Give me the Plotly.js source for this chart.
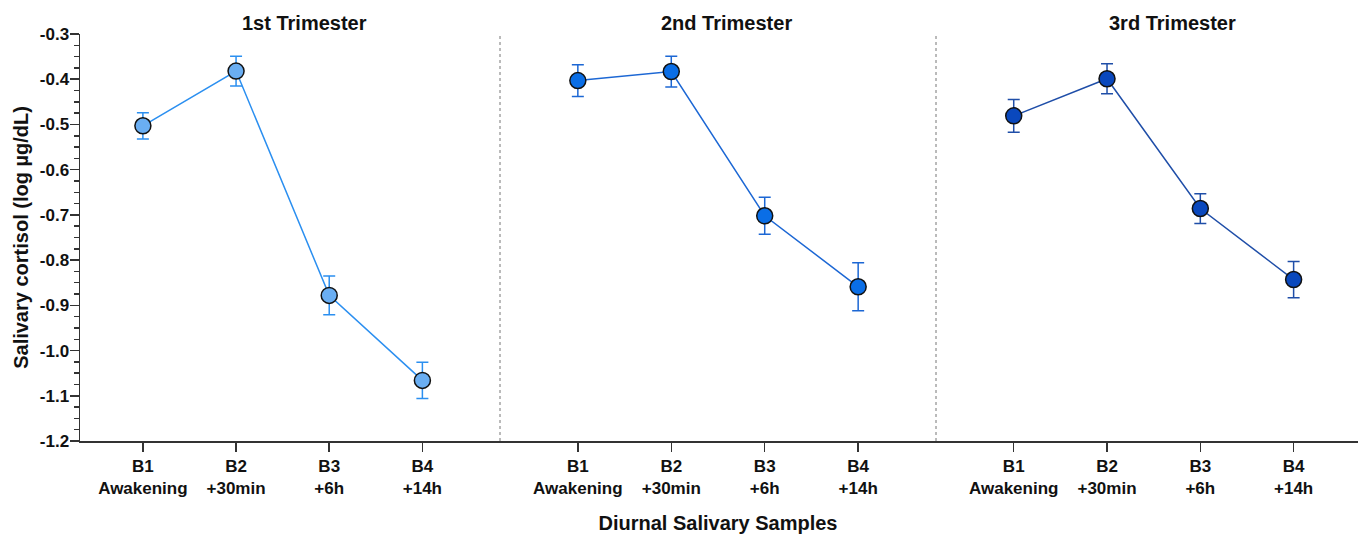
<!DOCTYPE html>
<html>
<head>
<meta charset="utf-8">
<script src="https://cdn.plot.ly/plotly-3.0.1.min.js"></script>
<style>html,body{margin:0;padding:0;background:#fff;}#chart{width:1358px;height:536px;}</style>
</head>
<body>
<div id="chart"></div>
<script>
// ---- data ----
const categories = ["B1<br>Awakening", "B2<br>+30min", "B3<br>+6h", "B4<br>+14h"];
const panelTitles = ["1st Trimester", "2nd Trimester", "3rd Trimester"];
const t1Mean = [-0.503, -0.382, -0.878, -1.066];
const t1Err  = [0.029, 0.033, 0.043, 0.040];
const t2Mean = [-0.403, -0.383, -0.702, -0.859];
const t2Err  = [0.035, 0.034, 0.041, 0.053];
const t3Mean = [-0.481, -0.399, -0.686, -0.843];
const t3Err  = [0.036, 0.033, 0.033, 0.040];
const yTickVals = [-1.2, -1.1, -1.0, -0.9, -0.8, -0.7, -0.6, -0.5, -0.4, -0.3];
const yTickText = ["-1.2", "-1.1", "-1.0", "-0.9", "-0.8", "-0.7", "-0.6", "-0.5", "-0.4", "-0.3"];
const yTitle = "Salivary cortisol (log µg/dL)";
const xTitle = "Diurnal Salivary Samples";

// ---- style ----
const FONT = "Liberation Sans, Arial, Helvetica, sans-serif";
const AX = "#333333";
const fills = ["#6aaef2", "#0a6ee6", "#0a48bd"];
const lines = ["#2b8ff0", "#1c67d4", "#1f4ea8"];
const means = [t1Mean, t2Mean, t3Mean];
const errs = [t1Err, t2Err, t3Err];

const traces = means.map((m, k) => ({
  type: "scatter",
  mode: "lines+markers",
  x: categories,
  y: m,
  xaxis: k === 0 ? "x" : "x" + (k + 1),
  yaxis: "y",
  line: {color: lines[k], width: 1.5},
  marker: {size: 16, color: fills[k], line: {color: "#111", width: 1.5}},
  error_y: {type: "data", array: errs[k], visible: true, color: lines[k], thickness: 1.5, width: 6},
  showlegend: false,
  hoverinfo: "x+y"
}));

const dom1 = (500 - 80) / 1278, dom2 = (936 - 80) / 1278;
function xa(domain, range, extra) {
  return Object.assign({
    type: "category",
    domain: domain,
    range: range,
    anchor: "y",
    showline: true, linecolor: AX, linewidth: 1.5,
    ticks: "outside", ticklen: 9, tickwidth: 1.5, tickcolor: AX,
    showgrid: false, zeroline: false,
    tickfont: {family: FONT, size: 17, color: "#111", weight: 700},
    fixedrange: true
  }, extra || {});
}

const layout = {
  width: 1358, height: 536,
  margin: {l: 80, r: 0, t: 33.5, b: 94.5, pad: 0},
  paper_bgcolor: "#fff", plot_bgcolor: "#fff",
  font: {family: FONT, color: "#111"},
  xaxis: xa([0, dom1], [-0.675, 3.833]),
  xaxis2: xa([dom1, dom2], [-0.833, 3.833], {
    title: {text: xTitle, font: {family: FONT, size: 20, color: "#111", weight: 700}, standoff: 19}
  }),
  xaxis3: xa([dom2, 1], [-0.833, 3.69]),
  yaxis: {
    range: [-1.2, -0.3],
    tickmode: "array", tickvals: yTickVals, ticktext: yTickText,
    showline: true, linecolor: AX, linewidth: 1.5,
    ticks: "outside", ticklen: 9, tickwidth: 1.5, tickcolor: AX,
    ticklabelstandoff: -3,
    minor: {tickmode: "linear", tick0: -1.2, dtick: 0.025, ticks: "outside", ticklen: 5, tickwidth: 1.5, tickcolor: AX, showgrid: false},
    showgrid: false, zeroline: false,
    tickfont: {family: FONT, size: 17, color: "#111", weight: 700},
    title: {text: yTitle, font: {family: FONT, size: 20, color: "#111", weight: 700}, standoff: 6},
    fixedrange: true
  },
  shapes: [
    {type: "line", xref: "paper", yref: "paper", x0: dom1, x1: dom1, y0: 0, y1: 1, line: {color: "#777", width: 1, dash: "dot"}},
    {type: "line", xref: "paper", yref: "paper", x0: dom2, x1: dom2, y0: 0, y1: 1, line: {color: "#777", width: 1, dash: "dot"}}
  ],
  annotations: panelTitles.map((t, k) => ({
    text: t, xref: "paper", yref: "paper",
    x: [(304 - 80) / 1278, (726 - 80) / 1278, (1172 - 80) / 1278][k],
    y: 1 + 11.5 / 408, xanchor: "center", yanchor: "middle", showarrow: false,
    font: {family: FONT, size: 20, color: "#111", weight: 700}
  }))
};

Plotly.newPlot("chart", traces, layout, {displayModeBar: false, staticPlot: true});
</script>
</body>
</html>
